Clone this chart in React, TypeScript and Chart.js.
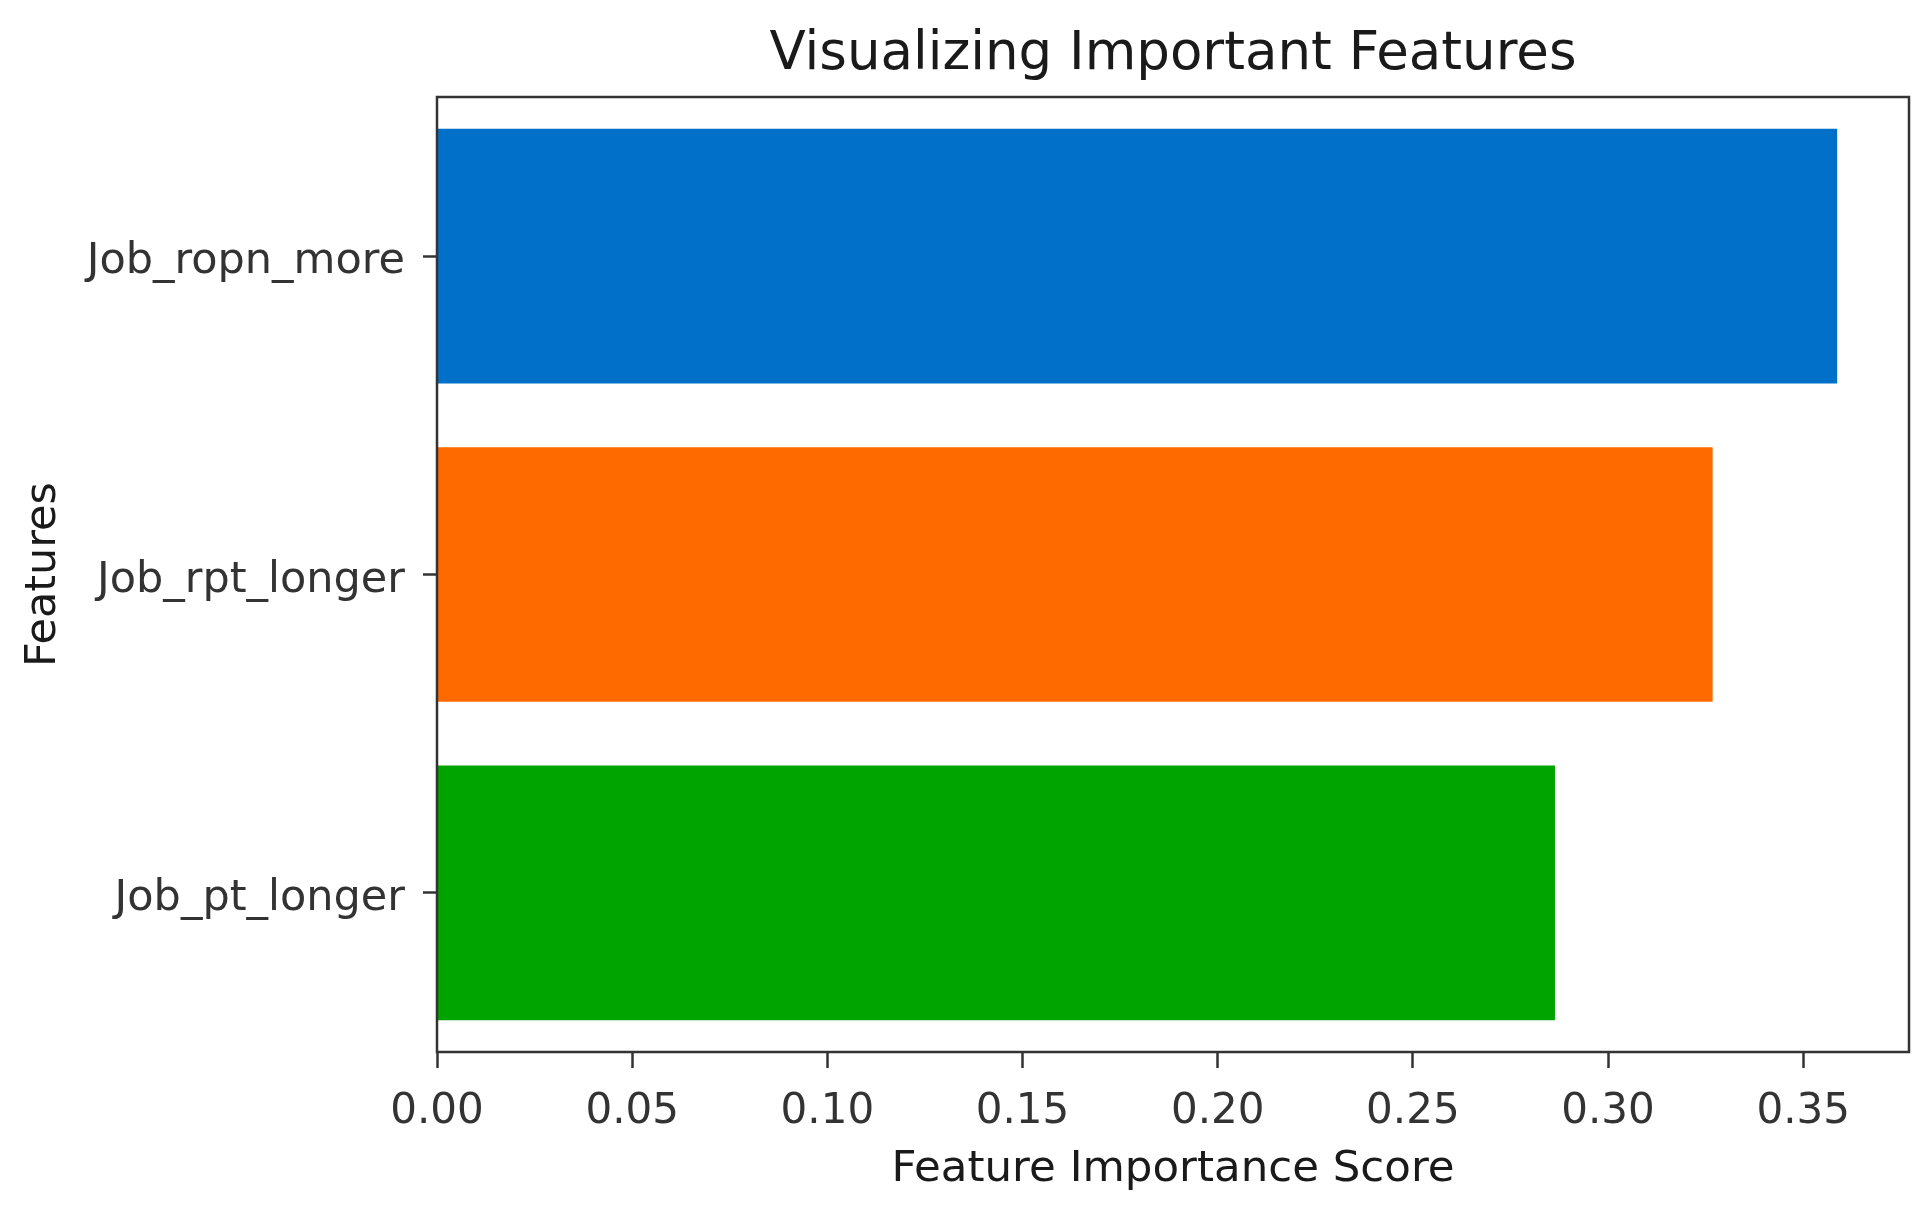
import React, { useEffect, useRef } from "react";
import { Chart, registerables } from "chart.js";

Chart.register(...registerables);

const features = ["Job_ropn_more", "Job_rpt_longer", "Job_pt_longer"];
const scores = [0.3587, 0.3268, 0.2864];
const barColors = ["#0070C8", "#FF6A00", "#00A400"];
const xMin = 0;
const xMax = 0.3771;
const xStep = 0.05;

const FONT = "'DejaVu Sans', sans-serif";

export default function App() {
  const ref = useRef<HTMLCanvasElement | null>(null);

  useEffect(() => {
    const canvas = ref.current;
    if (!canvas) return;
    const framePlugin = {
      id: "frame",
      afterDraw(chart: any) {
        const { ctx, chartArea } = chart;
        ctx.save();
        ctx.strokeStyle = "#333333";
        ctx.lineWidth = 2.5;
        ctx.strokeRect(
          chartArea.left,
          chartArea.top,
          chartArea.right - chartArea.left,
          chartArea.bottom - chartArea.top
        );
        ctx.restore();
      },
    };
    const chart = new Chart(canvas, {
      type: "bar",
      data: {
        labels: features,
        datasets: [
          {
            data: scores,
            backgroundColor: barColors,
            borderWidth: 0,
            barPercentage: 0.8,
            categoryPercentage: 1.0,
          },
        ],
      },
      options: {
        indexAxis: "y",
        responsive: false,
        animation: false,
        layout: { padding: { left: 0, right: 23, top: 0, bottom: 0 } },
        plugins: {
          legend: { display: false },
          tooltip: { enabled: false },
          title: { display: false },
        },
        scales: {
          xTitle: {
            type: "linear",
            position: "top",
            min: xMin,
            max: xMax,
            border: { display: false },
            grid: { display: false },
            ticks: { display: false },
            title: {
              display: true,
              text: "Visualizing Important Features",
              color: "#1a1a1a",
              font: { family: FONT, size: 53 },
              padding: { top: 23, bottom: 0 },
            },
            afterFit: (scale: any) => {
              scale.height = 97;
            },
          },
          x: {
            type: "linear",
            position: "bottom",
            min: xMin,
            max: xMax,
            border: { display: false },
            grid: {
              display: true,
              drawOnChartArea: false,
              drawTicks: true,
              tickLength: 16,
              tickWidth: 2.5,
              tickColor: "#333333",
            },
            ticks: {
              stepSize: xStep,
              includeBounds: false,
              color: "#333333",
              padding: 19,
              font: { family: FONT, size: 42 },
              callback: (v: any) => Number(v).toFixed(2),
            },
            title: {
              display: true,
              text: "Feature Importance Score",
              color: "#1a1a1a",
              font: { family: FONT, size: 43.5 },
              padding: { top: 0, bottom: 16 },
            },
            afterFit: (scale: any) => {
              scale.height = 160;
            },
          },
          y: {
            type: "category",
            offset: true,
            border: { display: false },
            grid: {
              display: true,
              offset: false,
              drawOnChartArea: false,
              drawTicks: true,
              tickLength: 14,
              tickWidth: 2.5,
              tickColor: "#333333",
            },
            ticks: {
              color: "#333333",
              padding: 18,
              labelOffset: 6,
              font: { family: FONT, size: 43 },
            },
            title: {
              display: true,
              text: "Features",
              color: "#1a1a1a",
              font: { family: FONT, size: 43 },
              padding: { top: 18, bottom: 0 },
            },
            afterFit: (scale: any) => {
              scale.width = 437;
            },
          },
        },
      },
      plugins: [framePlugin],
    });
    return () => chart.destroy();
  }, []);

  return (
    <div style={{ position: "fixed", left: 0, top: 0, width: 1932, height: 1212, background: "#ffffff" }}>
      <canvas ref={ref} width={1932} height={1212} style={{ display: "block" }} />
    </div>
  );
}
